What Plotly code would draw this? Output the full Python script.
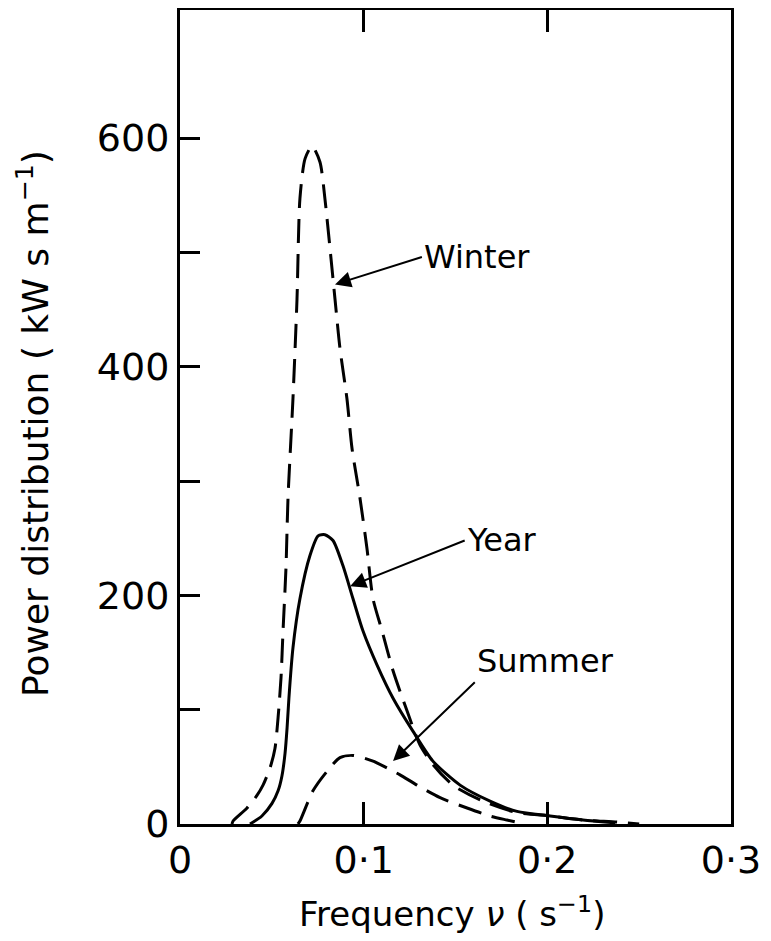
import plotly.graph_objects as go

# ---- data ----
winter_v = [0.0283, 0.0289, 0.0365, 0.0419, 0.0452, 0.049, 0.0517, 0.0534, 0.055, 0.0561, 0.0577,
            0.0588, 0.0615, 0.0637, 0.0653, 0.0681, 0.0719, 0.0762, 0.0789, 0.0817, 0.0844, 0.0871,
            0.0909, 0.0937, 0.098, 0.1018, 0.1051, 0.110, 0.116, 0.1236, 0.1307, 0.1377, 0.1486,
            0.165, 0.1835, 0.2015, 0.2194, 0.238, 0.25]
winter_p = [0, 2.6, 14, 25, 34, 49, 66, 93, 128, 169, 224,
            285, 372, 459, 547, 582, 593, 579, 547, 503, 459, 416,
            372, 328, 285, 241, 197, 169, 134, 99, 69, 52, 34,
            20, 10, 7, 3.5, 1.7, 0]

year_v = [0.0381, 0.0446, 0.0501, 0.0534, 0.0555, 0.0572, 0.0583, 0.0593, 0.0615, 0.0653, 0.0708,
          0.0752, 0.0789, 0.0833, 0.0887, 0.0942, 0.0996, 0.1073, 0.116, 0.1269, 0.1377, 0.1525,
          0.1688, 0.1835, 0.2015, 0.2194, 0.237]
year_p = [0, 7, 18, 29, 42, 62, 84, 110, 154, 197, 235,
          252, 253, 248, 226, 197, 169, 139, 110, 81, 55, 34,
          20, 11, 7, 3.5, 1]

summer_v = [0.0642, 0.0653, 0.0724, 0.080, 0.0871, 0.0942, 0.1051, 0.1127, 0.1198, 0.129, 0.1416,
            0.1563, 0.1688, 0.178, 0.185]
summer_p = [0, 2.6, 29, 46, 58, 60, 55, 49, 43, 34, 23,
            14, 7, 3.5, 1]

x_ticks = [0, 0.1, 0.2, 0.3]
x_ticklabels = ["0", "0·1", "0·2", "0·3"]
y_ticks = [0, 200, 400, 600]
y_ticklabels = ["0", "200", "400", "600"]
y_minor_ticks = [100, 300, 500]

FONT = "DejaVu Sans"
INK = "black"

# page body has an 8px margin: figure is shifted by (8, 8)
OFF = 8
W, H = 771 - OFF, 941 - OFF
L, R, T, B = 180, 731, 10, 824          # plot frame in page pixels
ml, mt = L - OFF, T - OFF
mr, mb = W - (R - OFF), H - (B - OFF)


def px_x(px):
    return (px - L) / (R - L)


def px_y(py):
    return (B - py) / (B - T)


fig = go.Figure()
fig.add_trace(go.Scatter(x=winter_v, y=winter_p, mode="lines", line_shape="spline",
                         line=dict(color=INK, width=3, dash="24px,11px", smoothing=0.7),
                         name="Winter"))
fig.add_trace(go.Scatter(x=year_v, y=year_p, mode="lines", line_shape="spline",
                         line=dict(color=INK, width=3, smoothing=0.7), name="Year"))
fig.add_trace(go.Scatter(x=summer_v, y=summer_p, mode="lines", line_shape="spline",
                         line=dict(color=INK, width=3, dash="24px,11px", smoothing=0.7),
                         name="Summer"))

# labels with arrows: tip (x, y) in data, tail (ax, ay) in data, anchors
labels = [
    ("Winter", 0.0844, 472, 0.1317, 496, "left", "middle"),
    ("Year", 0.0926, 208, 0.1550, 248, "left", "middle"),
    ("Summer", 0.116, 55, 0.1605, 124, "left", "bottom"),
]
for lab, tx, ty, ax, ay, xa, ya in labels:
    fig.add_annotation(x=tx, y=ty, ax=ax, ay=ay, axref="x", ayref="y", xref="x", yref="y",
                       text=lab, showarrow=True, arrowhead=2, arrowsize=1.6, arrowwidth=2,
                       arrowcolor=INK, xanchor=xa, yanchor=ya,
                       font=dict(family=FONT, size=32, color=INK))

# axis titles
fig.add_annotation(x=px_x(452), y=px_y(912), xref="paper", yref="paper",
                   text="Frequency <i>ν</i> ( s<sup>−1</sup>)", showarrow=False,
                   xanchor="center", yanchor="middle", font=dict(family=FONT, size=34, color=INK))
fig.add_annotation(x=px_x(33), y=px_y(424), xref="paper", yref="paper",
                   text="Power distribution ( kW s m<sup>−1</sup>)", showarrow=False, textangle=-90,
                   xanchor="center", yanchor="middle", font=dict(family=FONT, size=36, color=INK))

fig.update_xaxes(range=[0, 0.3], tickvals=x_ticks, ticktext=x_ticklabels,
                 ticks="inside", ticklen=22, tickwidth=2.5, tickcolor=INK,
                 showline=True, linecolor=INK, linewidth=3, mirror="ticks",
                 showgrid=False, zeroline=False, automargin=False,
                 tickfont=dict(family=FONT, size=38, color=INK))
fig.update_yaxes(range=[0, 712], tickvals=y_ticks, ticktext=y_ticklabels,
                 ticks="inside", ticklen=20, tickwidth=2.5, tickcolor=INK,
                 minor=dict(tickvals=y_minor_ticks, ticks="inside", ticklen=20, tickwidth=2.5,
                            tickcolor=INK, showgrid=False),
                 showline=True, linecolor=INK, linewidth=3, mirror=True,
                 showgrid=False, zeroline=False, automargin=False,
                 tickfont=dict(family=FONT, size=38, color=INK))

fig.update_layout(width=W, height=H, margin=dict(l=ml, r=mr, t=mt, b=mb, autoexpand=False),
                  paper_bgcolor="white", plot_bgcolor="white", showlegend=False,
                  font=dict(family=FONT, color=INK))

fig.write_html("out.html")
